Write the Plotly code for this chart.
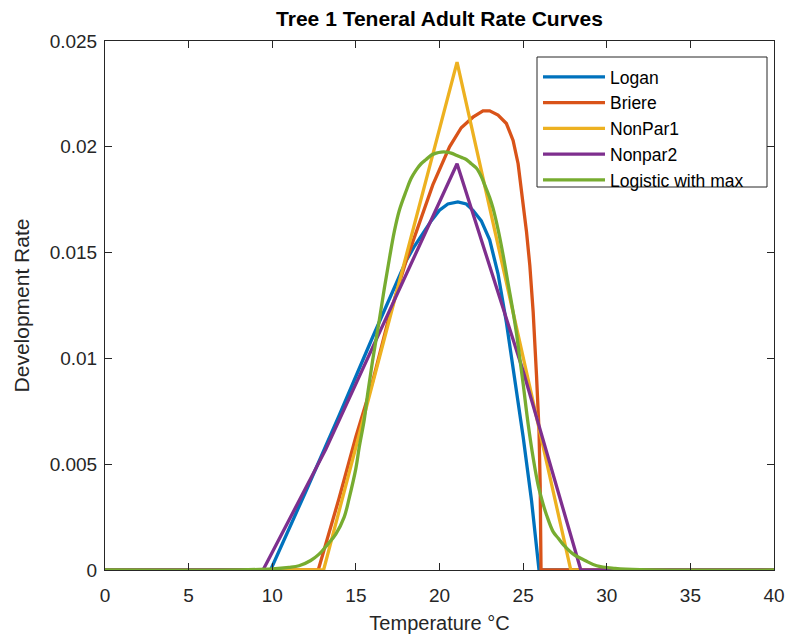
import plotly.graph_objects as go

# ---- data ----
logan_x = [0, 9.9, 12, 14, 16, 17.0, 17.5, 18.0, 18.5, 19.0, 19.5, 20.0, 20.5, 21.1, 21.6, 22.0, 22.5, 23.0, 23.5, 24.0, 24.5, 25.0, 25.5, 25.95, 40]
logan_y = [0, 0, 0.0037, 0.0073, 0.0110, 0.0128, 0.0137, 0.0146, 0.0153, 0.0159, 0.0165, 0.0170, 0.0173, 0.0174, 0.0173, 0.0170, 0.0165, 0.0156, 0.0140, 0.0117, 0.0090, 0.0063, 0.0033, 0, 0]

briere_x = [0, 12.75, 14, 15, 16, 17, 18, 19, 19.6, 20.6, 21.3, 22.0, 22.6, 23.0, 23.5, 24.0, 24.4, 24.7, 25.0, 25.2, 25.4, 25.6, 25.8, 25.95, 26.02, 26.07, 40]
briere_y = [0, 0, 0.0034, 0.0063, 0.0089, 0.0120, 0.0146, 0.0169, 0.0182, 0.0200, 0.0209, 0.0214, 0.0217, 0.0217, 0.0215, 0.0211, 0.0203, 0.0192, 0.0174, 0.0160, 0.0144, 0.0122, 0.0092, 0.0066, 0.0040, 0, 0]

nonpar1_x = [0, 13.07, 21.05, 27.85, 40]
nonpar1_y = [0, 0, 0.0240, 0, 0]

nonpar2_x = [0, 9.45, 13.2, 21.05, 25.0, 28.45, 40]
nonpar2_y = [0, 0, 0.0057, 0.0192, 0.0094, 0, 0]

logistic_x = [0, 8, 10, 11, 11.6, 12.3, 12.8, 13.3, 13.8, 14.3, 14.6, 15.0, 15.2, 15.5, 15.7, 16.0, 16.4, 16.7, 17.0, 17.3, 17.6, 18.0, 18.3, 18.6, 18.9, 19.2, 19.5, 19.8, 20.1, 20.4, 20.7, 21.0, 21.3, 21.6, 21.9, 22.2, 22.5, 22.7, 23.0, 23.2, 23.5, 23.8, 24.0, 24.2, 24.4, 24.6, 24.8, 25.0, 25.3, 25.6, 25.9, 26.2, 26.4, 26.8, 27.1, 27.4, 28.0, 28.7, 29.4, 30.5, 32, 40]
logistic_y = [0, 0.00001, 0.00005, 0.00012, 0.0002, 0.00045, 0.00075, 0.0012, 0.0017, 0.0025, 0.0034, 0.0048, 0.0058, 0.0071, 0.0083, 0.0099, 0.0118, 0.0133, 0.0147, 0.0160, 0.0170, 0.0179, 0.0185, 0.0189, 0.0192, 0.0194, 0.0196, 0.0197, 0.01975, 0.01975, 0.0197, 0.0196, 0.0195, 0.0194, 0.0192, 0.0190, 0.0186, 0.0182, 0.0176, 0.0171, 0.0161, 0.0149, 0.0140, 0.0131, 0.0122, 0.0112, 0.0100, 0.0088, 0.0069, 0.0053, 0.0040, 0.0031, 0.0026, 0.0018, 0.0015, 0.0012, 0.00075, 0.00045, 0.0002, 0.00008, 0.00002, 0]

series_names = ["Logan", "Briere", "NonPar1", "Nonpar2", "Logistic with max"]
series_x = [logan_x, briere_x, nonpar1_x, nonpar2_x, logistic_x]
series_y = [logan_y, briere_y, nonpar1_y, nonpar2_y, logistic_y]
series_shape = ["linear", "linear", "linear", "linear", "spline"]
colors = ["#0072BD", "#D95319", "#EDB120", "#7E2F8E", "#77AC30"]

x_ticks = [0, 5, 10, 15, 20, 25, 30, 35, 40]
y_ticks = [0, 0.005, 0.01, 0.015, 0.02, 0.025]
y_ticktext = ["0", "0.005", "0.01", "0.015", "0.02", "0.025"]

FONT = "Liberation Sans, Arial, Helvetica, sans-serif"
AX = "#262626"

fig = go.Figure()
for name, xs, ys, c, shp in zip(series_names, series_x, series_y, colors, series_shape):
    fig.add_trace(go.Scatter(x=xs, y=ys, mode="lines", name=name,
                             line=dict(color=c, width=3.3, shape=shp)))

L, R, T, B = 105, 15, 41, 64
W = 789 - L - R
H = 634 - T - B
# legend box (pixel geometry of the reference)
bx0, bx1, by0, by1 = 537, 767, 57, 187

fig.add_shape(type="rect", xref="paper", yref="paper", layer="above",
              x0=(bx0 - L) / W, x1=(bx1 - L) / W,
              y0=1 - (by1 - T) / H, y1=1 - (by0 - T) / H,
              line=dict(color=AX, width=1), fillcolor="white")

fig.update_layout(
    width=789, height=634,
    margin=dict(l=L, r=R, t=T, b=B, autoexpand=False),
    paper_bgcolor="white", plot_bgcolor="white",
    font=dict(family=FONT, size=18, color=AX),
    title=dict(text="<b>Tree 1 Teneral Adult Rate Curves</b>",
               x=(L + W / 2) / 789, xanchor="center", y=1 - 19 / 634, yanchor="middle",
               font=dict(family=FONT, size=21, color="black")),
    legend=dict(x=(bx0 + 1 - L) / W, y=1 - (by0 + 2 - T) / H, xanchor="left", yanchor="top",
                bgcolor="rgba(0,0,0,0)", borderwidth=0,
                font=dict(family=FONT, size=17.5, color="black"),
                itemwidth=62),
    showlegend=True,
)
fig.update_xaxes(range=[0, 40], tickvals=x_ticks, showgrid=False, zeroline=False,
                 automargin=False,
                 showline=True, linecolor=AX, linewidth=1, mirror="ticks",
                 ticks="inside", ticklen=7, tickcolor=AX, ticklabelstandoff=8,
                 tickfont=dict(size=19, color=AX),
                 title=dict(text="Temperature °C", font=dict(size=20, color=AX), standoff=12))
fig.update_yaxes(range=[0, 0.025], tickvals=y_ticks, ticktext=y_ticktext, showgrid=False,
                 automargin=False,
                 zeroline=False, showline=True, linecolor=AX, linewidth=1, mirror="ticks",
                 ticks="inside", ticklen=7, tickcolor=AX, ticklabelstandoff=3,
                 tickfont=dict(size=19, color=AX),
                 title=dict(text="Development Rate", font=dict(size=21, color=AX), standoff=14))

fig.write_html("out.html")
